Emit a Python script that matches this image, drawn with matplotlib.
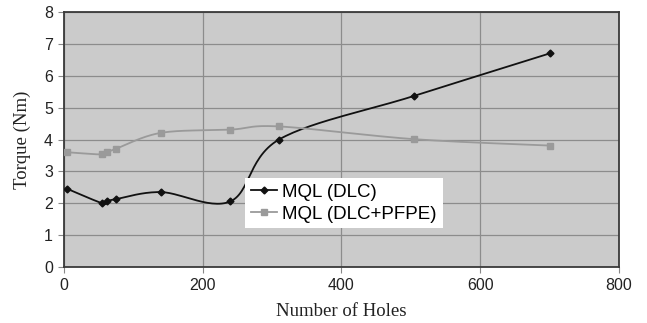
import numpy as np
import matplotlib
matplotlib.use("Agg")
import matplotlib.pyplot as plt

holes = [5, 55, 62, 75, 140, 240, 310, 505, 700]
torque_dlc = [2.45, 2.0, 2.06, 2.13, 2.35, 2.06, 4.0, 5.37, 6.7]
torque_pfpe = [3.6, 3.53, 3.6, 3.71, 4.21, 4.31, 4.41, 4.01, 3.81]
labels = ["MQL (DLC)", "MQL (DLC+PFPE)"]


def smooth(x, y, sx, sy, n=30):
    """Excel-like smoothed line: Catmull-Rom through the points, in screen scale"""
    p = np.column_stack([np.asarray(x, float) * sx, np.asarray(y, float) * sy])
    p = np.vstack([p[0], p, p[-1]])
    out = []
    t = np.linspace(0, 1, n)[:, None]
    for i in range(1, len(p) - 2):
        p0, p1, p2, p3 = p[i - 1], p[i], p[i + 1], p[i + 2]
        c1 = p1 + (p2 - p0) / 6
        c2 = p2 - (p3 - p1) / 6
        seg = ((1 - t) ** 3 * p1 + 3 * (1 - t) ** 2 * t * c1
               + 3 * (1 - t) * t ** 2 * c2 + t ** 3 * p2)
        out.append(seg if i == 1 else seg[1:])
    out = np.vstack(out)
    return out[:, 0] / sx, out[:, 1] / sy


fig = plt.figure(figsize=(6.47, 3.23), dpi=100)
ax = fig.add_axes([0.0989, 0.1734, 0.8578, 0.7894])
ax.set_facecolor("#cbcbcb")

sx, sy = 555 / 800, 255 / 8
for xs, ys, col, mk, ms, lab in [
        (holes, torque_dlc, "#111111", "D", 3.5, labels[0]),
        (holes, torque_pfpe, "#9a9a9a", "s", 5, labels[1])]:
    cx, cy = smooth(xs, ys, sx, sy)
    ax.plot(cx, cy, color=col, lw=1.3, zorder=3)
    ax.plot(xs, ys, ls="none", marker=mk, ms=ms, color=col, zorder=4)
    ax.plot([], [], color=col, lw=1.3, marker=mk, ms=ms, label=lab)

ax.set_xlim(0, 800)
ax.set_ylim(0, 8)
ax.set_xticks([0, 200, 400, 600, 800])
ax.set_yticks(range(0, 9))
ax.grid(True, color="#8c8c8c", lw=0.9)
ax.set_axisbelow(True)
for s in ax.spines.values():
    s.set_color("#3a3a3a")
    s.set_linewidth(1.3)
ax.tick_params(direction="out", length=4, width=0.8, color="#888888",
               labelsize=11.5, pad=4)
for t in ax.get_xticklabels() + ax.get_yticklabels():
    t.set_family("Liberation Sans")
    t.set_color("#222222")

ax.set_xlabel("Number of Holes", family="Liberation Serif", fontsize=13.5,
              color="#222222", labelpad=7)
ax.set_ylabel("Torque (Nm)", family="Liberation Serif", fontsize=13.5,
              color="#222222", labelpad=9)

leg = ax.legend(loc="upper left", bbox_to_anchor=(0.326, 0.349),
                prop={"family": "Liberation Sans", "size": 13.5},
                frameon=True, fancybox=False, framealpha=1,
                edgecolor="white", handlelength=1.4, handletextpad=0.3,
                borderpad=0.3, labelspacing=0.25, borderaxespad=0)
leg.get_frame().set_linewidth(0)

fig.savefig("out.png", dpi=100)
